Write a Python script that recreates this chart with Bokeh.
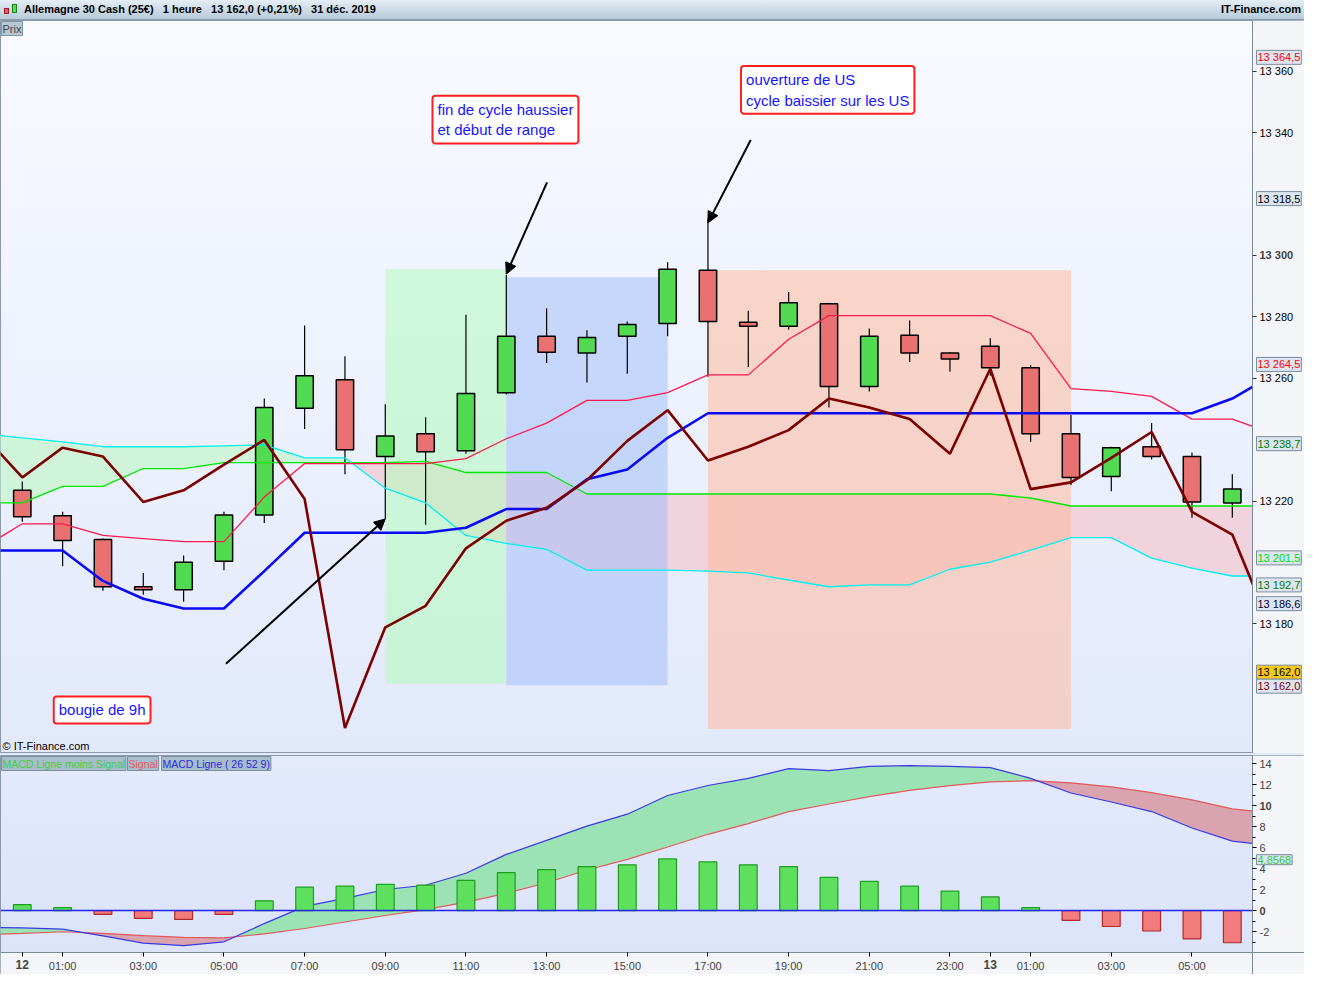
import numpy as np
from bokeh.plotting import figure
from bokeh.models import Range1d, FixedTicker, Label, Arrow, NormalHead, Div, LinearAxis
from bokeh.layouts import column
from bokeh.embed import file_html
from bokeh.resources import INLINE

FONT = "Liberation Sans"

# ---------------- data ----------------
idx = list(range(31))
opens = [13223.5, 13215.2, 13207.5, 13192.1, 13191.1, 13200.4, 13215.5, 13250.2, 13259.5, 13234.5,
         13241.9, 13236.4, 13255.3, 13273.7, 13268.2, 13273.7, 13277.8, 13295.2, 13278.2, 13276.9,
         13284.3, 13257.3, 13274.0, 13268.2, 13270.4, 13263.4, 13241.9, 13228.0, 13237.7, 13234.5, 13219.4]
highs = [13226.4, 13216.5, 13207.8, 13196.6, 13202.3, 13216.5, 13253.4, 13277.2, 13267.2, 13251.5,
         13247.3, 13280.7, 13293.6, 13282.7, 13275.6, 13278.5, 13297.8, 13312.0, 13282.0, 13288.1,
         13284.6, 13276.2, 13278.8, 13268.5, 13273.0, 13264.3, 13248.0, 13237.7, 13245.4, 13235.8, 13228.7]
lows = [13213.3, 13198.8, 13190.8, 13189.5, 13187.2, 13197.5, 13212.9, 13243.5, 13228.7, 13214.2,
        13212.3, 13235.4, 13254.7, 13265.0, 13258.6, 13261.5, 13273.7, 13260.5, 13263.7, 13275.9,
        13250.5, 13255.7, 13265.3, 13262.1, 13260.8, 13239.3, 13225.2, 13223.2, 13233.5, 13214.6, 13214.6]
closes = [13214.9, 13207.2, 13192.1, 13191.1, 13200.1, 13215.5, 13250.5, 13260.8, 13236.7, 13241.2,
          13236.1, 13255.0, 13273.7, 13268.5, 13273.3, 13277.5, 13295.5, 13278.5, 13276.9, 13284.6,
          13257.3, 13273.7, 13268.2, 13266.3, 13263.4, 13241.9, 13227.7, 13237.4, 13234.5, 13219.7, 13223.9]

line_idx = list(range(-1, 32))
tenkan = [13204.6, 13212.6, 13212.6, 13208.8, 13207.8, 13206.8, 13206.8, 13221.3, 13232.2, 13232.2,
          13232.2, 13232.2, 13233.8, 13240.3, 13245.4, 13252.8, 13252.8, 13255.3, 13261.1, 13261.1,
          13272.7, 13280.4, 13280.4, 13280.4, 13280.4, 13280.4, 13274.6, 13256.6, 13255.7, 13254.1,
          13246.7, 13246.7, 13242.0]
kijun = [13203.9, 13203.9, 13203.9, 13194.0, 13188.2, 13185.0, 13185.0, 13197.2, 13209.7, 13209.7,
         13209.7, 13209.7, 13211.3, 13217.4, 13217.4, 13227.1, 13230.3, 13240.6, 13248.6, 13248.6,
         13248.6, 13248.6, 13248.6, 13248.6, 13248.6, 13248.6, 13248.6, 13248.6, 13248.6, 13248.6,
         13248.6, 13253.4, 13261.0]
senkou_a = [13219.4, 13219.4, 13224.8, 13224.8, 13230.6, 13230.6, 13232.5, 13232.5, 13232.5, 13232.5,
            13232.5, 13232.9, 13229.3, 13229.3, 13229.3, 13222.3, 13222.3, 13222.3, 13222.3, 13222.3,
            13222.3, 13222.3, 13222.3, 13222.3, 13222.3, 13222.3, 13221.0, 13218.4, 13218.4, 13218.4,
            13218.4, 13218.4, 13218.4]
senkou_b = [13241.9, 13240.6, 13239.3, 13237.7, 13237.7, 13237.7, 13238.0, 13238.3, 13234.1, 13234.1,
            13224.2, 13219.4, 13208.8, 13206.2, 13204.3, 13197.5, 13197.5, 13197.5, 13197.2, 13196.6,
            13194.3, 13192.1, 13192.7, 13192.7, 13197.8, 13200.1, 13204.0, 13208.1, 13208.1, 13201.4,
            13198.2, 13195.6, 13195.6]
chikou = [13242.0, 13227.7, 13237.4, 13234.5, 13219.7, 13223.5, 13231.9, 13239.9, 13220.7, 13146.1,
          13178.9, 13185.9, 13204.6, 13213.6, 13217.8, 13226.8, 13239.6, 13249.6, 13233.2, 13237.7,
          13243.1, 13253.4, 13250.5, 13246.7, 13235.4, 13263.1, 13223.9, 13226.1, 13234.1, 13242.5,
          13216.5, 13209.1, 13177.3]

macd_line = [-1.60, -1.65, -1.77, -2.42, -3.10, -3.35, -2.98, -1.24, 0.40, 1.17, 2.01, 2.42, 3.56,
             5.36, 6.70, 8.06, 9.20, 10.98, 11.94, 12.62, 13.55, 13.36, 13.77, 13.83, 13.77, 13.65,
             12.62, 11.22, 10.36, 9.45, 7.88, 6.63, 6.20]
signal_line = [-2.30, -2.17, -2.02, -2.17, -2.39, -2.55, -2.61, -2.23, -1.71, -1.09, -0.47, 0.09, 0.80,
               1.64, 2.66, 3.87, 4.89, 6.07, 7.28, 8.30, 9.45, 10.17, 10.88, 11.47, 11.93, 12.28,
               12.40, 12.19, 11.81, 11.26, 10.57, 9.70, 9.30]
histogram = [0.56, 0.28, -0.37, -0.74, -0.84, -0.37, 0.93, 2.23, 2.33, 2.51, 2.42, 2.88, 3.63, 3.91,
             4.19, 4.37, 4.93, 4.65, 4.37, 4.19, 3.16, 2.79, 2.33, 1.86, 1.30, 0.28, -0.93, -1.52,
             -1.95, -2.70, -3.07]

time_ticks = [0, 1, 3, 5, 7, 9, 11, 13, 15, 17, 19, 21, 23, 24, 25, 27, 29]
time_labels = ["12", "01:00", "03:00", "05:00", "07:00", "09:00", "11:00", "13:00", "15:00",
               "17:00", "19:00", "21:00", "23:00", "13", "01:00", "03:00", "05:00"]
bold_time_labels = ["12", "13"]

price_ticks = [13180, 13220, 13260, 13280, 13300, 13340, 13360]
bold_price_ticks = [13300]
macd_ticks = [-2, 0, 2, 4, 6, 8, 10, 12, 14]
macd_minor = [-3, -1, 1, 3, 5, 7, 9, 11, 13]
bold_macd_ticks = [0, 10]

zone_x0 = [9, 12, 17]
zone_x1 = [12, 16, 26]
zone_top = [13295.5, 13292.9, 13295.2]
zone_bottom = [13160.6, 13160.0, 13145.8]

price_tags = [13364.5, 13318.5, 13264.5, 13238.7, 13201.5, 13192.7, 13186.6, 13162.0, 13162.0]
macd_tag = 4.8568

notes = ["fin de cycle haussier\net début de range",
         "ouverture de US\ncycle baissier sur les US",
         "bougie de 9h"]
note_x = [10.17, 17.82, 0.78]
note_y = [13352.0, 13361.7, 13156.4]

arrow_from = [(5.05, 13167.0), (13.01, 13323.8), (18.06, 13337.6)]
arrow_to = [(9.0, 13214.2), (12.0, 13293.9), (17.0, 13310.6)]

# ---------------- helpers ----------------
def fmt_price(v, dec=0):
    s = f"{v:,.{dec}f}"
    return s.replace(",", " ").replace(".", ",")


def with_crossings(x, a, b):
    xs, ya, yb = [x[0]], [a[0]], [b[0]]
    for k in range(1, len(x)):
        d0 = a[k - 1] - b[k - 1]
        d1 = a[k] - b[k]
        if d0 * d1 < 0:
            t = d0 / (d0 - d1)
            xc = x[k - 1] + t * (x[k] - x[k - 1])
            yc = a[k - 1] + t * (a[k] - a[k - 1])
            xs.append(xc); ya.append(yc); yb.append(yc)
        xs.append(x[k]); ya.append(a[k]); yb.append(b[k])
    return np.array(xs), np.array(ya), np.array(yb)


W = 1304
X_START, X_AXIS, X_END = -0.54, 30.5, 31.79     # axis strip lives between X_AXIS and X_END
xr = Range1d(X_START, X_END)
STRIP = "#f3f5f9"

# ---------------- header ----------------
icon = ('<span style="display:inline-block;position:relative;width:18px;height:14px;margin-right:4px;vertical-align:middle;">'
        '<span style="position:absolute;left:2px;top:5px;width:5px;height:6px;background:#e85a5a;border:1px solid #a02020;"></span>'
        '<span style="position:absolute;left:10px;top:1px;width:5px;height:9px;background:#4ee04e;border:1px solid #208020;"></span></span>')
header_html = (
    f'<div style="display:flex;justify-content:space-between;align-items:center;width:{W}px;height:20px;'
    'box-sizing:border-box;padding:0 3px 0 2px;background:linear-gradient(#e4edf4,#b7cbda);'
    'border-bottom:1px solid #8a9cab;font-family:\'Liberation Sans\',Arial,sans-serif;font-size:11px;font-weight:bold;color:#000;">'
    f'<span>{icon}Allemagne 30 Cash (25€)&nbsp;&nbsp;&nbsp;1 heure&nbsp;&nbsp;&nbsp;13 162,0 (+0,21%)&nbsp;&nbsp;&nbsp;31 déc. 2019</span>'
    '<span>IT-Finance.com</span></div>')
header = Div(text=header_html, width=W, height=20, margin=(0, 0, 0, 0))

# ---------------- main price figure ----------------
yr = Range1d(13137.8, 13376.5)
p = figure(width=W, height=733, x_range=xr, y_range=yr, output_backend="svg", toolbar_location=None,
           x_axis_location=None, y_axis_location=None, min_border=0,
           background_fill_alpha=0, border_fill_alpha=0, outline_line_color="#8a9aaa")
p.styles = {"background": "linear-gradient(to bottom, #f8faff 0%, #e2e9fb 100%)"}
p.grid.visible = False

# cloud
xs, ya, yb = with_crossings(line_idx, senkou_a, senkou_b)
hi = np.maximum(ya, yb)
p.varea(x=xs, y1=ya, y2=hi, fill_color="#cff4da")
p.varea(x=xs, y1=yb, y2=hi, fill_color="#f1d3dd")

# highlighted zones
p.quad(left=zone_x0, right=zone_x1, bottom=zone_bottom, top=zone_top,
       fill_color=["#b2fbbc", "#a4c0f8", "#ffb99c"], fill_alpha=0.55, line_color=None)

# candles
body_bottom = [min(o, c) for o, c in zip(opens, closes)]
body_top = [max(o, c) for o, c in zip(opens, closes)]
body_color = ["#52da52" if c >= o else "#e87272" for o, c in zip(opens, closes)]
p.segment(x0=idx, y0=lows, x1=idx, y1=highs, line_color="black", line_width=1.2)
p.vbar(x=idx, width=0.43, bottom=body_bottom, top=body_top, fill_color=body_color,
       line_color="black", line_width=1.5)

# ichimoku lines
p.line(line_idx, senkou_a, line_color="#00e800", line_width=1.3)
p.line(line_idx, senkou_b, line_color="#00f0f0", line_width=1.3)
p.line(line_idx, tenkan, line_color="#ff1a4c", line_width=1.3)
p.line(line_idx, kijun, line_color="#0a0af2", line_width=2.6)
p.line(line_idx, chikou, line_color="#7c0000", line_width=2.6)

# price-axis strip background
p.quad(left=[X_AXIS], right=[X_END], bottom=[yr.start], top=[yr.end], fill_color=STRIP, line_color=None)

# arrows
for (xa, ya_), (xb, yb_) in zip(arrow_from, arrow_to):
    p.add_layout(Arrow(end=NormalHead(size=11, fill_color="black", line_color="black"),
                       x_start=xa, y_start=ya_, x_end=xb, y_end=yb_,
                       line_color="black", line_width=2))

# notes
for t, nx, ny in zip(notes, note_x, note_y):
    p.add_layout(Label(x=nx, y=ny, text=t, text_align="left", text_baseline="top",
                       text_font=FONT, text_font_size="15px", text_color="#1414ff",
                       text_line_height=1.22,
                       background_fill_color="white", border_line_color="#ff1e1e",
                       border_line_width=2, padding=5, border_radius=3))

# price axis (fixed at the plot edge)
ax = LinearAxis(fixed_location=X_AXIS)
ax.ticker = FixedTicker(ticks=price_ticks, minor_ticks=[])
ax.major_label_overrides = {t: ("" if t in bold_price_ticks else fmt_price(t)) for t in price_ticks}
ax.major_label_text_font = FONT
ax.major_label_text_font_size = "11px"
ax.major_label_text_color = "black"
ax.major_tick_out = 4
ax.major_tick_in = 0
ax.minor_tick_out = 0
ax.major_label_standoff = 3
ax.axis_line_color = "#7a8a9a"
ax.major_tick_line_color = "#333333"
p.add_layout(ax, "right")
for t in bold_price_ticks:
    p.add_layout(Label(x=X_AXIS, y=t, x_offset=7, text=fmt_price(t), text_font=FONT,
                       text_font_size="11px", text_font_style="bold", text_baseline="middle",
                       text_align="left"))

tag_colors = ["#ff0000", "#000000", "#ff0000", "#007a00", "#00e000", "#007a00", "#000030",
              "#000000", "#800000"]
tag_fills = ["#dde5f0"] * 7 + ["#f6c81a", "#dde5f0"]
tag_offsets = [0] * 7 + [7, -7]
for v, c, f, off in zip(price_tags, tag_colors, tag_fills, tag_offsets):
    p.add_layout(Label(x=X_AXIS, y=v, x_offset=4, y_offset=off, text=fmt_price(v, 1),
                       text_font=FONT, text_font_size="11px", text_color=c,
                       text_baseline="middle", text_align="left",
                       background_fill_color=f, border_line_color="#7c8c9c",
                       border_line_width=1, padding=1))

p.add_layout(Label(x=X_START, y=yr.end, x_offset=1, y_offset=-1, text="Prix", text_font=FONT,
                   text_font_size="11px", text_baseline="top", text_align="left",
                   background_fill_color="#b6c7d5", border_line_color="#8094a4", padding=1))
p.add_layout(Label(x=X_START, y=yr.start, x_offset=2, y_offset=2, text="© IT-Finance.com",
                   text_font=FONT, text_font_size="11px", text_baseline="bottom",
                   text_align="left", text_color="black"))

# ---------------- MACD figure ----------------
M_LOW, M_AXIS, M_HIGH = -6.1, -4.0, 14.8        # time-axis strip lives between M_LOW and M_AXIS
mr = Range1d(M_LOW, M_HIGH)
q = figure(width=W, height=221, x_range=xr, y_range=mr, output_backend="svg", toolbar_location=None,
           x_axis_location=None, y_axis_location=None, min_border=0, min_border_top=2,
           background_fill_alpha=0, border_fill_alpha=0, outline_line_color="#8a9aaa")
q.styles = {"background": "linear-gradient(to bottom, #e4eafc 0%, #dbe3fa 100%)"}
q.grid.visible = False

mxs, ma, ms = with_crossings(line_idx, macd_line, signal_line)
mhi = np.maximum(ma, ms)
q.varea(x=mxs, y1=ms, y2=mhi, fill_color="#9be2b5")
q.varea(x=mxs, y1=ma, y2=mhi, fill_color="#d9a3b0")
q.line(line_idx, signal_line, line_color="#e25a5a", line_width=1.2)
q.line(line_idx, macd_line, line_color="#3a3ae2", line_width=1.2)

bar_fill = ["#5ee05e" if h >= 0 else "#f27c7c" for h in histogram]
bar_line = ["#1e9e1e" if h >= 0 else "#b02828" for h in histogram]
q.vbar(x=idx, width=0.44, bottom=0, top=histogram, fill_color=bar_fill, line_color=bar_line,
       line_width=1.2)
q.hspan(y=[0], line_color="#2424e6", line_width=1.5)

# axis strips
q.quad(left=[X_AXIS], right=[X_END], bottom=[M_LOW], top=[M_HIGH], fill_color=STRIP, line_color=None)
q.quad(left=[X_START], right=[X_END], bottom=[M_LOW], top=[M_AXIS], fill_color=STRIP, line_color=None)

qa = LinearAxis(fixed_location=X_AXIS)
qa.ticker = FixedTicker(ticks=macd_ticks, minor_ticks=macd_minor)
qa.major_label_overrides = {t: ("" if t in bold_macd_ticks else str(t)) for t in macd_ticks}
qa.major_label_text_font = FONT
qa.major_label_text_font_size = "11px"
qa.major_tick_out = 4
qa.major_tick_in = 0
qa.minor_tick_out = 3
qa.minor_tick_in = 0
qa.major_label_standoff = 3
qa.axis_line_color = "#7a8a9a"
q.add_layout(qa, "right")
for t in bold_macd_ticks:
    q.add_layout(Label(x=X_AXIS, y=t, x_offset=7, text=str(t), text_font=FONT,
                       text_font_size="11px", text_font_style="bold", text_baseline="middle",
                       text_align="left"))
q.add_layout(Label(x=X_AXIS, y=macd_tag, x_offset=4, text=f"{macd_tag:.4f}".replace(".", ","),
                   text_font=FONT, text_font_size="11px", text_color="#3cc83c",
                   text_baseline="middle", text_align="left", background_fill_color="#dde5f0",
                   border_line_color="#7c8c9c", padding=1))

xa = LinearAxis(fixed_location=M_AXIS)
xa.ticker = FixedTicker(ticks=time_ticks, minor_ticks=[])
xa.major_label_overrides = {t: ("" if l in bold_time_labels else l) for t, l in zip(time_ticks, time_labels)}
xa.major_label_text_font = FONT
xa.major_label_text_font_size = "11px"
xa.major_tick_out = 4
xa.major_tick_in = 0
xa.minor_tick_out = 0
xa.major_label_standoff = 4
xa.axis_line_color = "#7a8a9a"
q.add_layout(xa, "below")
for t, l in zip(time_ticks, time_labels):
    if l in bold_time_labels:
        q.add_layout(Label(x=t, y=M_AXIS, y_offset=-8, text=l, text_font=FONT,
                           text_font_size="12px", text_font_style="bold", text_baseline="top",
                           text_align="center"))

legend_items = [("MACD Ligne moins Signal", "#40d040", 1), ("Signal", "#e25a5a", 127),
                ("MACD Ligne ( 26 52 9)", "#2a2ae2", 161)]
for txt, col, off in legend_items:
    q.add_layout(Label(x=X_START, y=M_HIGH, x_offset=off, y_offset=-1, text=txt, text_font=FONT,
                       text_font_size="10.5px", text_color=col, text_baseline="top",
                       text_align="left", background_fill_color="#a9bccb",
                       border_line_color="#7c90a0", padding=1))

layout = column(header, p, q, spacing=0)
open("out.html", "w").write(file_html(layout, INLINE))
